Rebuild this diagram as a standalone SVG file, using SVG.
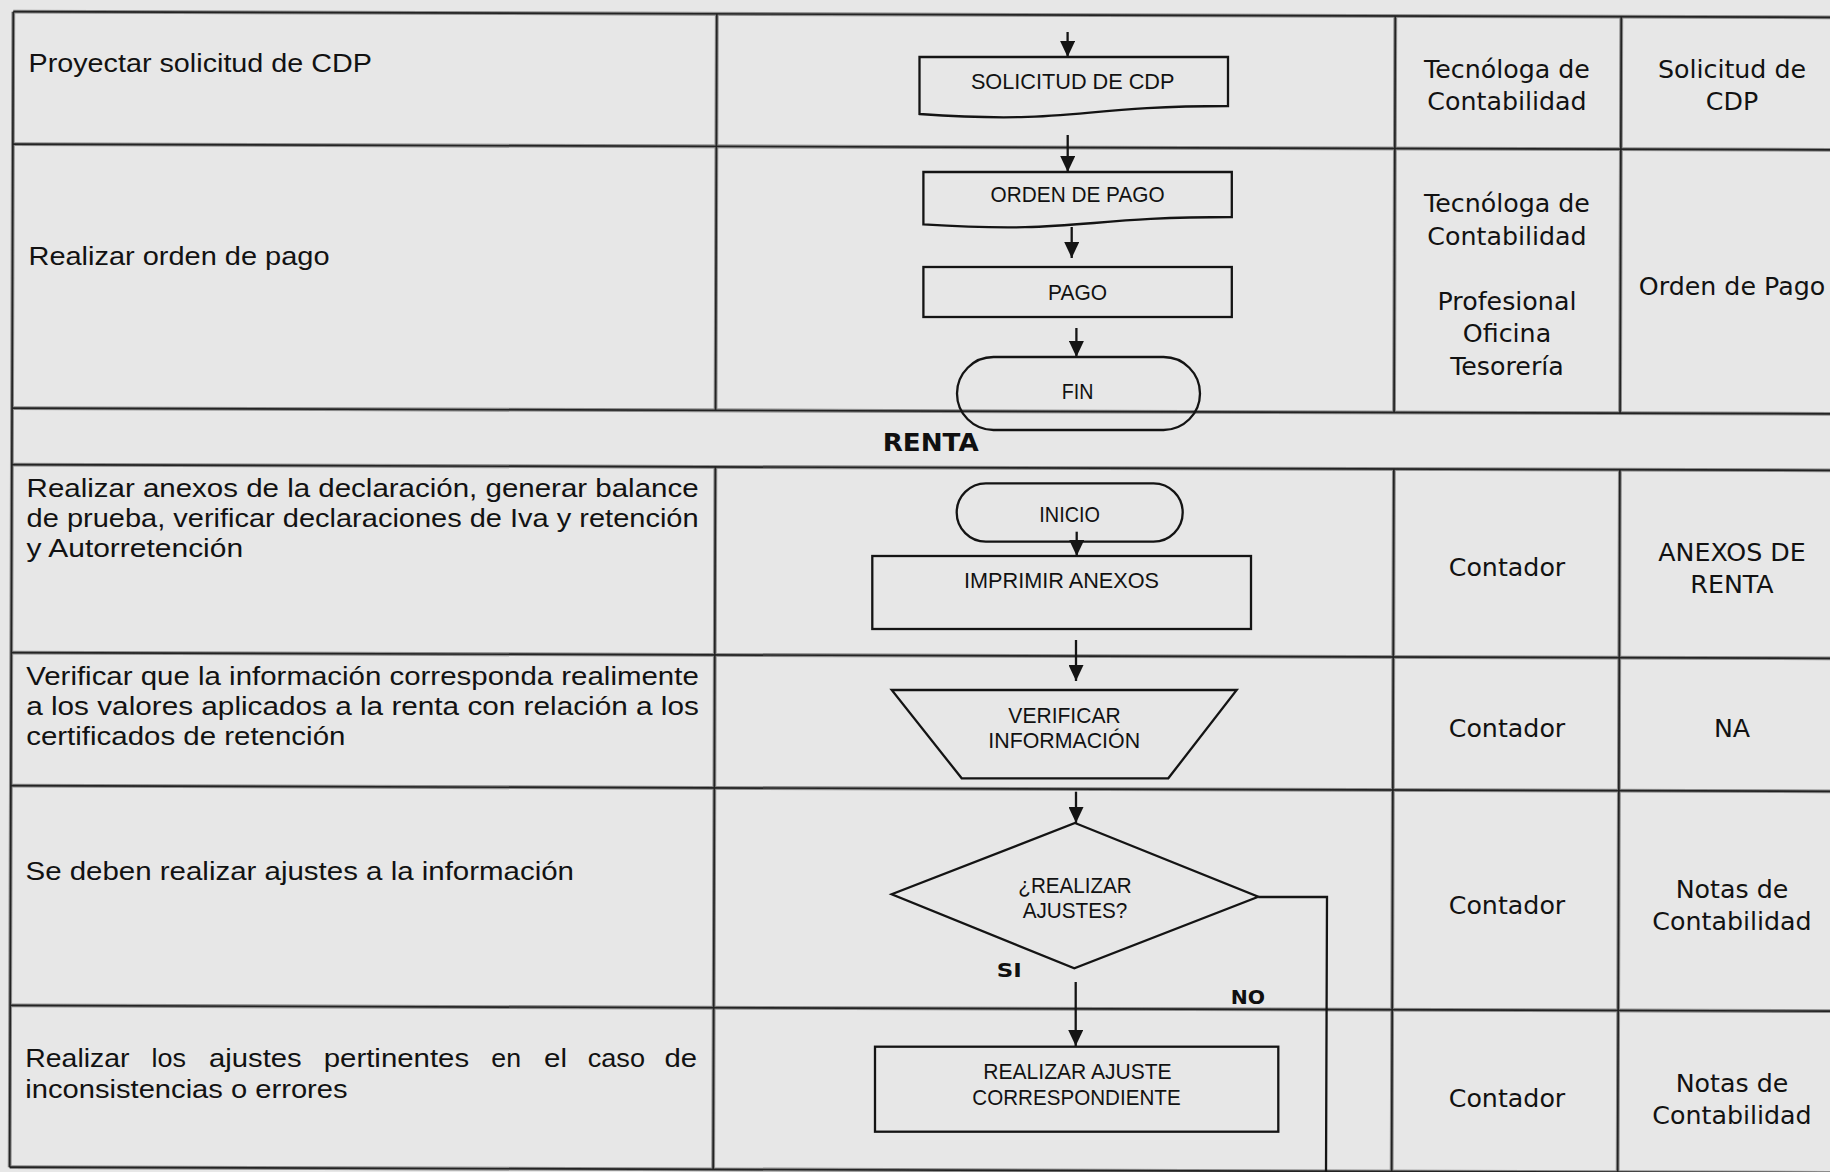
<svg xmlns="http://www.w3.org/2000/svg" width="1830" height="1172" viewBox="0 0 1830 1172">
<style>
.bg{fill:#e7e7e7}
.gh{stroke:#8c8c8c;stroke-width:3.8;fill:none}
.gc{stroke:#232323;stroke-width:1.7;fill:none}
.shape{fill:none;stroke:#141414;stroke-width:2.3}
.conn{fill:none;stroke:#141414;stroke-width:2.3}
.lt{font-family:"Liberation Sans",Arial,sans-serif;font-size:25.5px;fill:#121212}
.rt{font-family:"DejaVu Sans",Verdana,sans-serif;font-size:25.3px;fill:#121212;text-anchor:middle}
.ft{font-family:"Liberation Sans",Arial,sans-serif;font-size:22.5px;fill:#121212;text-anchor:middle}
.bt{font-family:"DejaVu Sans",Verdana,sans-serif;font-weight:bold;fill:#101010}
</style>
<defs>
<marker id="ah" markerUnits="userSpaceOnUse" markerWidth="16" markerHeight="15" refX="16" refY="7.5" orient="auto">
<path d="M0,0 L16,7.5 L0,15 Z" fill="#141414"/>
</marker>
<g id="gridlines">
<path d="M11.5,14.5 H1835 M11.5,147 H1835 M11.5,411 H1835 M11.5,467.5 H1835 M11.5,655.5 H1835 M11.5,788.5 H1835 M11.5,1008.3 H1835 M11.5,1170 H1835"/>
<path d="M11.5,14.5 V1170 M715,14.5 V411 M715,467.5 V1170 M1393.5,14.5 V411 M1393.5,467.5 V1170 M1619.5,14.5 V411 M1619.5,467.5 V1170"/>
</g>
</defs>
<rect class="bg" x="0" y="0" width="1830" height="1172"/>
<g id="grid" transform="rotate(0.18 915 586)">
<use href="#gridlines" class="gh"/>
<use href="#gridlines" class="gc"/>
</g>
<g id="col-actividad">
<text class="lt" x="28.5" y="71.5" textLength="343.5" lengthAdjust="spacingAndGlyphs">Proyectar solicitud de CDP</text>
<text class="lt" x="28.5" y="265" textLength="301" lengthAdjust="spacingAndGlyphs">Realizar orden de pago</text>
<text class="lt" x="26.6" y="496.7" textLength="672" lengthAdjust="spacingAndGlyphs">Realizar anexos de la declaración, generar balance</text>
<text class="lt" x="26.6" y="526.7" textLength="672" lengthAdjust="spacingAndGlyphs">de prueba, verificar declaraciones de Iva y retención</text>
<text class="lt" x="26.6" y="556.7" textLength="216.5" lengthAdjust="spacingAndGlyphs">y Autorretención</text>
<text class="lt" x="26.2" y="685" textLength="672.6" lengthAdjust="spacingAndGlyphs">Verificar que la información corresponda realimente</text>
<text class="lt" x="26.2" y="715" textLength="672.6" lengthAdjust="spacingAndGlyphs">a los valores aplicados a la renta con relación a los</text>
<text class="lt" x="26.2" y="745" textLength="319.2" lengthAdjust="spacingAndGlyphs">certificados de retención</text>
<text class="lt" x="25.5" y="880" textLength="548.5" lengthAdjust="spacingAndGlyphs">Se deben realizar ajustes a la información</text>
<g class="lt">
<text x="25.3" y="1067.3" textLength="104.2" lengthAdjust="spacingAndGlyphs">Realizar</text>
<text x="151.5" y="1067.3" textLength="34.5" lengthAdjust="spacingAndGlyphs">los</text>
<text x="209" y="1067.3" textLength="92.7" lengthAdjust="spacingAndGlyphs">ajustes</text>
<text x="323.7" y="1067.3" textLength="145.5" lengthAdjust="spacingAndGlyphs">pertinentes</text>
<text x="491.3" y="1067.3" textLength="29.7" lengthAdjust="spacingAndGlyphs">en</text>
<text x="544" y="1067.3" textLength="23" lengthAdjust="spacingAndGlyphs">el</text>
<text x="587.7" y="1067.3" textLength="57.3" lengthAdjust="spacingAndGlyphs">caso</text>
<text x="664.4" y="1067.3" textLength="32.6" lengthAdjust="spacingAndGlyphs">de</text>
</g>
<text class="lt" x="25.3" y="1098.3" textLength="322.3" lengthAdjust="spacingAndGlyphs">inconsistencias o errores</text>
</g>
<g id="col-responsable">
<text class="rt" x="1507" y="78.3">Tecnóloga de</text>
<text class="rt" x="1507" y="110">Contabilidad</text>
<text class="rt" x="1507" y="212.3">Tecnóloga de</text>
<text class="rt" x="1507" y="245">Contabilidad</text>
<text class="rt" x="1507" y="310">Profesional</text>
<text class="rt" x="1507" y="342">Oficina</text>
<text class="rt" x="1507" y="375">Tesorería</text>
<text class="rt" x="1507" y="575.5">Contador</text>
<text class="rt" x="1507" y="736.5">Contador</text>
<text class="rt" x="1507" y="914">Contador</text>
<text class="rt" x="1507" y="1107">Contador</text>
</g>
<g id="col-registro">
<text class="rt" x="1732" y="78.3">Solicitud de</text>
<text class="rt" x="1732" y="110">CDP</text>
<text class="rt" x="1732" y="295">Orden de Pago</text>
<text class="rt" x="1732" y="560.5">ANEXOS DE</text>
<text class="rt" x="1732" y="593">RENTA</text>
<text class="rt" x="1732" y="736.5">NA</text>
<text class="rt" x="1732" y="897.5">Notas de</text>
<text class="rt" x="1732" y="929.5">Contabilidad</text>
<text class="rt" x="1732" y="1091.5">Notas de</text>
<text class="rt" x="1732" y="1124">Contabilidad</text>
</g>
<g id="title-renta">
<text class="bt" x="882.7" y="451" font-size="25.5" textLength="96" lengthAdjust="spacingAndGlyphs">RENTA</text>
</g>
<g id="node-solicitud">
<path class="shape" d="M919.5,57 H1228 V106 C1073.7,106 1073.7,124.7 919.5,114 Z"/>
<text class="ft" x="1072.7" y="89" textLength="203.6" lengthAdjust="spacingAndGlyphs">SOLICITUD DE CDP</text>
</g>
<g id="node-orden">
<path class="shape" d="M923.4,172 H1231.8 V217 C1077.6,217 1077.6,234.2 923.4,224.3 Z"/>
<text class="ft" x="1077.6" y="202" textLength="174" lengthAdjust="spacingAndGlyphs">ORDEN DE PAGO</text>
</g>
<g id="node-pago">
<rect class="shape" x="923.4" y="267" width="308.4" height="50"/>
<text class="ft" x="1077.6" y="300" textLength="59" lengthAdjust="spacingAndGlyphs">PAGO</text>
</g>
<g id="node-fin">
<rect class="shape" x="957" y="357" width="243" height="73" rx="36.5" ry="36.5"/>
<text class="ft" x="1077.6" y="399" textLength="31.6" lengthAdjust="spacingAndGlyphs">FIN</text>
</g>
<g id="node-inicio">
<rect class="shape" x="956.7" y="483.3" width="226" height="58.4" rx="29.2" ry="29.2"/>
<text class="ft" x="1069.7" y="522.3" textLength="60.7" lengthAdjust="spacingAndGlyphs">INICIO</text>
</g>
<g id="node-imprimir">
<rect class="shape" x="872.3" y="556" width="378.7" height="73"/>
<text class="ft" x="1061.5" y="587.7" textLength="195" lengthAdjust="spacingAndGlyphs">IMPRIMIR ANEXOS</text>
</g>
<g id="node-verificar">
<polygon class="shape" points="891.7,690 1236.7,690 1168.3,778.3 961.7,778.3"/>
<text class="ft" x="1064.5" y="723.3" textLength="112.3" lengthAdjust="spacingAndGlyphs">VERIFICAR</text>
<text class="ft" x="1064.2" y="748.3" textLength="151.7" lengthAdjust="spacingAndGlyphs">INFORMACIÓN</text>
</g>
<g id="node-decision">
<polygon class="shape" points="1075,823 1258.3,896.7 1074.3,968.3 891.7,894.3"/>
<text class="ft" x="1075" y="892.7" textLength="113.3" lengthAdjust="spacingAndGlyphs">¿REALIZAR</text>
<text class="ft" x="1075" y="918" textLength="104.7" lengthAdjust="spacingAndGlyphs">AJUSTES?</text>
</g>
<g id="node-ajuste">
<rect class="shape" x="875" y="1046.7" width="403.3" height="85"/>
<text class="ft" x="1077.5" y="1079" textLength="188.3" lengthAdjust="spacingAndGlyphs">REALIZAR AJUSTE</text>
<text class="ft" x="1076.5" y="1105" textLength="208.3" lengthAdjust="spacingAndGlyphs">CORRESPONDIENTE</text>
</g>
<g id="connectors">
<line class="conn" x1="1067.6" y1="32" x2="1067.6" y2="57" marker-end="url(#ah)"/>
<line class="conn" x1="1067.7" y1="135" x2="1067.7" y2="172" marker-end="url(#ah)"/>
<line class="conn" x1="1071.7" y1="227" x2="1071.7" y2="258" marker-end="url(#ah)"/>
<line class="conn" x1="1076.4" y1="328" x2="1076.4" y2="357" marker-end="url(#ah)"/>
<line class="conn" x1="1076.7" y1="531.7" x2="1076.7" y2="556" marker-end="url(#ah)"/>
<line class="conn" x1="1076" y1="640" x2="1076" y2="681" marker-end="url(#ah)"/>
<line class="conn" x1="1076" y1="791.7" x2="1076" y2="823" marker-end="url(#ah)"/>
<line class="conn" x1="1075.7" y1="982" x2="1075.7" y2="1046" marker-end="url(#ah)"/>
<polyline class="conn" points="1258.3,897 1327,897 1326,1175"/>
<text class="bt" x="996.7" y="976.7" font-size="20" textLength="25" lengthAdjust="spacingAndGlyphs">SI</text>
<text class="bt" x="1230.7" y="1004" font-size="20" textLength="34.3" lengthAdjust="spacingAndGlyphs">NO</text>
</g>
</svg>
